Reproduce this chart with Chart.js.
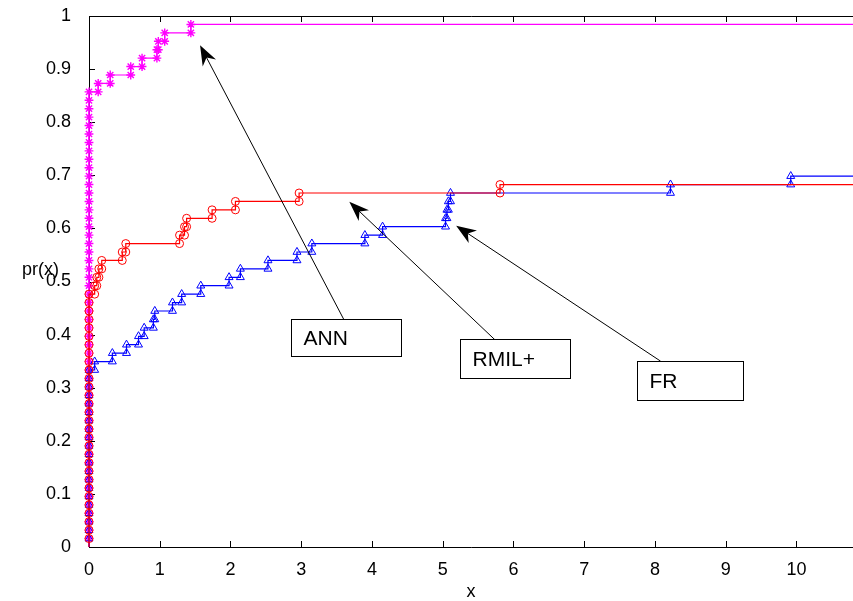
<!DOCTYPE html>
<html lang="en">
<head>
  <meta charset="UTF-8" />
  <title>Performance profile</title>
  <script src="https://cdn.jsdelivr.net/npm/chart.js"></script>
  <style>
    html, body { margin: 0; padding: 0; background: #fff; }
    #wrap { width: 853px; height: 601px; }
  </style>
</head>
<body>
  <div id="wrap"><canvas id="profile" width="853" height="601"></canvas></div>

  <script>
    // number of test problems, axis ticks
    const nProblems = 63;
    const xTicks = [0, 1, 2, 3, 4, 5, 6, 7, 8, 9, 10];
    const yTicks = [0, 0.1, 0.2, 0.3, 0.4, 0.5, 0.6, 0.7, 0.8, 0.9, 1];
    const xMax = 10.8;

    // problems solved with ratio 0, then the x where each further problem gets solved
    const annAtZero = 54;
    const annSteps = [0.13, 0.30, 0.59, 0.75, 0.96, 0.98, 1.07, 1.44];

    const rmilAtZero = 30;
    const rmilSteps = [0.08, 0.11, 0.14, 0.18, 0.47, 0.52, 1.28, 1.35, 1.38, 1.74, 2.07, 2.97, 5.81];

    const frAtZero = 21;
    const frSteps = [0.08, 0.33, 0.53, 0.70, 0.78, 0.91, 0.93, 1.18, 1.31, 1.58, 1.98, 2.14,
                     2.53, 2.94, 3.15, 3.90, 4.15, 5.04, 5.06, 5.08, 5.11, 8.22, 9.92];

    // text boxes with arrows (data units)
    const callouts = [
      { text: "ANN",   tip: [1.57, 0.945], tail: [3.60, 0.429], box: [2.85, 4.41, 0.429, 0.360] },
      { text: "RMIL+", tip: [3.68, 0.650], tail: [5.74, 0.390], box: [5.25, 6.80, 0.392, 0.318] },
      { text: "FR",    tip: [5.19, 0.605], tail: [8.08, 0.350], box: [7.74, 9.24, 0.350, 0.277] }
    ];

    const FONT = "'Liberation Sans', Arial, sans-serif";

    // stairs: every problem adds a corner below and above
    function profile(atZero, steps) {
      const pts = [{ x: 0, y: 0 }];
      for (let k = 1; k <= atZero; k++) pts.push({ x: 0, y: k / nProblems });
      let level = atZero;
      steps.forEach(s => {
        pts.push({ x: s, y: level / nProblems });
        level++;
        pts.push({ x: s, y: level / nProblems });
      });
      pts.push({ x: xMax, y: level / nProblems });
      return pts;
    }

    function markerRadius(r) {
      return ctx => (ctx.index === 0 || ctx.index === ctx.dataset.data.length - 1) ? 0 : r;
    }

    const matlabAxes = {
      id: "matlabAxes",
      beforeDatasetsDraw(chart) {
        const { ctx, chartArea: a, scales } = chart;
        ctx.save();
        ctx.strokeStyle = "#000";
        ctx.lineWidth = 1;
        ctx.beginPath();
        ctx.moveTo(a.left + 0.5, a.top + 0.5);
        ctx.lineTo(a.left + 0.5, a.bottom + 0.5);
        ctx.lineTo(a.right, a.bottom + 0.5);
        ctx.moveTo(a.left + 0.5, a.top + 0.5);
        ctx.lineTo(a.right, a.top + 0.5);
        xTicks.forEach(v => {
          const px = Math.round(scales.x.getPixelForValue(v)) + 0.5;
          ctx.moveTo(px, a.bottom);
          ctx.lineTo(px, a.bottom - 6);
          ctx.moveTo(px, a.top);
          ctx.lineTo(px, a.top + 6);
        });
        yTicks.forEach(v => {
          const py = Math.round(scales.y.getPixelForValue(v)) + 0.5;
          ctx.moveTo(a.left, py);
          ctx.lineTo(a.left + 6, py);
        });
        ctx.stroke();
        ctx.restore();
      },
      afterDatasetsDraw(chart) {
        const { ctx, scales } = chart;
        const X = v => scales.x.getPixelForValue(v);
        const Y = v => scales.y.getPixelForValue(v);
        ctx.save();
        callouts.forEach(c => {
          const tx = X(c.tip[0]), ty = Y(c.tip[1]);
          const sx = X(c.tail[0]), sy = Y(c.tail[1]);
          const len = Math.hypot(tx - sx, ty - sy);
          const ux = (tx - sx) / len, uy = (ty - sy) / len;
          ctx.strokeStyle = "#000";
          ctx.lineWidth = 1;
          ctx.beginPath();
          ctx.moveTo(sx, sy);
          ctx.lineTo(tx - ux * 12, ty - uy * 12);
          ctx.stroke();
          // arrow head
          const hl = 20, hw = 7.5;
          ctx.fillStyle = "#000";
          ctx.beginPath();
          ctx.moveTo(tx, ty);
          ctx.lineTo(tx - ux * hl - uy * hw, ty - uy * hl + ux * hw);
          ctx.lineTo(tx - ux * hl * 0.7, ty - uy * hl * 0.7);
          ctx.lineTo(tx - ux * hl + uy * hw, ty - uy * hl - ux * hw);
          ctx.closePath();
          ctx.fill();
          // box
          const bx = Math.round(X(c.box[0])) + 0.5, by = Math.round(Y(c.box[2])) + 0.5;
          const bw = Math.round(X(c.box[1]) - X(c.box[0])), bh = Math.round(Y(c.box[3]) - Y(c.box[2]));
          ctx.fillStyle = "#fff";
          ctx.fillRect(bx, by, bw, bh);
          ctx.strokeRect(bx, by, bw, bh);
          ctx.fillStyle = "#000";
          ctx.font = "21px " + FONT;
          ctx.textAlign = "left";
          ctx.textBaseline = "middle";
          ctx.fillText(c.text, bx + 12, by + bh / 2 + 1);
        });
        ctx.restore();
      },
      afterDraw(chart) {
        const { ctx, chartArea: a } = chart;
        ctx.save();
        ctx.fillStyle = "#000";
        ctx.font = "18px " + FONT;
        ctx.textBaseline = "middle";
        ctx.textAlign = "left";
        ctx.fillText("pr(x)", 22, 270);
        ctx.textAlign = "center";
        ctx.fillText("x", (a.left + a.right) / 2, 592);
        ctx.restore();
      }
    };

    new Chart(document.getElementById("profile"), {
      type: "line",
      data: {
        datasets: [
          {
            label: "RMIL+",
            data: profile(rmilAtZero, rmilSteps),
            borderColor: "#ff0000",
            borderWidth: 1.2,
            pointStyle: "circle",
            pointRadius: markerRadius(4),
            pointBorderColor: "#ff0000",
            pointBackgroundColor: "rgba(0,0,0,0)",
            pointBorderWidth: 1
          },
          {
            label: "FR",
            data: profile(frAtZero, frSteps),
            borderColor: "#0000ff",
            borderWidth: 1.2,
            pointStyle: "triangle",
            pointRadius: markerRadius(4.6),
            pointBorderColor: "#0000ff",
            pointBackgroundColor: "rgba(0,0,0,0)",
            pointBorderWidth: 1
          },
          {
            label: "ANN",
            data: profile(annAtZero, annSteps),
            borderColor: "#ff00ff",
            borderWidth: 1.2,
            pointStyle: "star",
            pointRadius: markerRadius(4.4),
            pointBorderColor: "#ff00ff",
            pointBackgroundColor: "#ff00ff",
            pointBorderWidth: 1.4
          }
        ]
      },
      options: {
        responsive: false,
        animation: false,
        clip: false,
        layout: { padding: { top: 16, right: 0, left: 0, bottom: 0 } },
        plugins: { legend: { display: false }, tooltip: { enabled: false } },
        elements: { line: { tension: 0 } },
        scales: {
          x: {
            type: "linear",
            min: 0,
            max: xMax,
            grid: { display: false },
            border: { display: false },
            afterBuildTicks: s => { s.ticks = xTicks.map(v => ({ value: v })); },
            afterFit: s => { s.height = 54; s.paddingLeft = 0; s.paddingRight = 0; },
            ticks: { color: "#000", font: { family: FONT, size: 18 }, padding: 4, maxRotation: 0 }
          },
          y: {
            type: "linear",
            min: 0,
            max: 1,
            grid: { display: false },
            border: { display: false },
            afterBuildTicks: s => { s.ticks = yTicks.map(v => ({ value: v })); },
            afterFit: s => { s.width = 89; s.paddingTop = 0; s.paddingBottom = 0; },
            ticks: {
              color: "#000",
              font: { family: FONT, size: 18 },
              padding: 10,
              callback: v => String(Number(v.toFixed(1)))
            }
          }
        }
      },
      plugins: [matlabAxes]
    });
  </script>
</body>
</html>
